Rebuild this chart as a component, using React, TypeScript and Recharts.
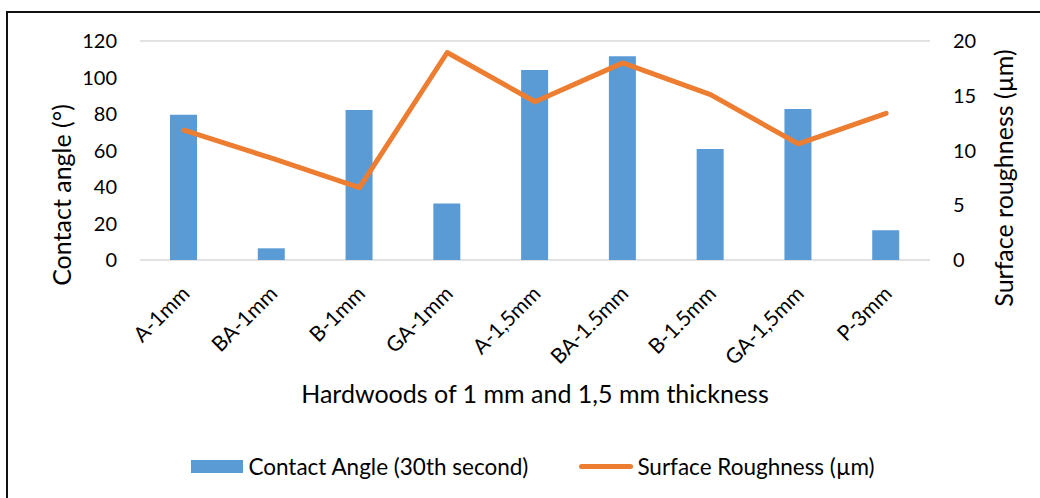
import React from 'react';
import {
  ComposedChart,
  Bar,
  Line,
  XAxis,
  YAxis,
  CartesianGrid,
  Legend,
} from 'recharts';

const samples = ['A-1mm', 'BA-1mm', 'B-1mm', 'GA-1mm', 'A-1,5mm', 'BA-1.5mm', 'B-1.5mm', 'GA-1,5mm', 'P-3mm'];
const contactAngle = [79.6, 6.4, 82.2, 30.9, 104.1, 111.6, 60.8, 82.7, 16.3];
const roughness = [11.85, 9.3, 6.6, 18.95, 14.45, 18.0, 15.1, 10.6, 13.4];
const angleTicks = [0, 20, 40, 60, 80, 100, 120];
const roughTicks = [0, 5, 10, 15, 20];

const data = samples.map((name, i) => ({
  name,
  angle: contactAngle[i],
  rough: roughness[i],
}));

const FONT = 'Lato, "Open Sans", sans-serif';
const BLUE = '#5B9BD5';
const ORANGE = '#ED7D31';

const XTick = (props: any) => {
  const { x, y, payload } = props;
  return (
    <g transform={`translate(${x + 7},${y + 33})`}>
      <text transform="rotate(-45)" textAnchor="end" fontSize={21} fill="#000" fontFamily={FONT}>
        {payload.value}
      </text>
    </g>
  );
};

const LegendBox = () => (
  <div
    style={{
      display: 'flex',
      justifyContent: 'center',
      alignItems: 'center',
      height: 30,
      fontFamily: FONT,
      fontSize: 22.5,
      color: '#000',
      paddingLeft: 26,
    }}
  >
    <span style={{ display: 'inline-block', width: 52, height: 13, background: BLUE, marginRight: 5 }} />
    <span>Contact Angle (30th second)</span>
    <span
      style={{
        display: 'inline-block',
        width: 54,
        height: 5,
        borderRadius: 3,
        background: ORANGE,
        marginLeft: 51,
        marginRight: 4,
      }}
    />
    <span>Surface Roughness (µm)</span>
  </div>
);

const App: React.FC = () => {
  return (
    <div
      style={{
        position: 'fixed',
        left: 0,
        top: 0,
        width: 1040,
        height: 498,
        overflow: 'hidden',
        background: '#fff',
      }}
    >
      <ComposedChart
        width={1040}
        height={498}
        data={data}
        margin={{ top: 41, right: 0, bottom: 17, left: 0 }}
      >
        <CartesianGrid vertical={false} stroke="#D9D9D9" strokeWidth={1.5} />
        <XAxis
          dataKey="name"
          height={191}
          axisLine={false}
          tickLine={false}
          tickSize={0}
          interval={0}
          tick={<XTick />}
          label={(p: any) => {
            const vb = p.viewBox;
            return (
              <text
                x={vb.x + vb.width / 2}
                y={vb.y + 143}
                textAnchor="middle"
                fontSize={25}
                fill="#000"
                fontFamily={FONT}
              >
                Hardwoods of 1 mm and 1,5 mm thickness
              </text>
            );
          }}
        />
        <YAxis
          yAxisId="left"
          width={140}
          domain={[0, 120]}
          ticks={angleTicks}
          axisLine={false}
          tickLine={false}
          tickSize={0}
          tickMargin={23}
          tick={{ fontSize: 20, fill: '#000', fontFamily: FONT }}
          label={(p: any) => {
            const vb = p.viewBox;
            const cx = vb.x + 61;
            const cy = 195;
            return (
              <text
                x={cx}
                y={cy}
                transform={`rotate(-90, ${cx}, ${cy})`}
                textAnchor="middle"
                dominantBaseline="central"
                fontSize={25}
                fill="#000"
                fontFamily={FONT}
              >
                Contact angle (°)
              </text>
            );
          }}
        />
        <YAxis
          yAxisId="right"
          orientation="right"
          width={110}
          domain={[0, 20]}
          ticks={roughTicks}
          axisLine={false}
          tickLine={false}
          tickSize={0}
          tickMargin={23}
          tick={{ fontSize: 20, fill: '#000', fontFamily: FONT }}
          label={(p: any) => {
            const vb = p.viewBox;
            const cx = vb.x + 73;
            const cy = 178;
            return (
              <text
                x={cx}
                y={cy}
                transform={`rotate(-90, ${cx}, ${cy})`}
                textAnchor="middle"
                dominantBaseline="central"
                fontSize={25}
                fill="#000"
                fontFamily={FONT}
              >
                Surface roughness (µm)
              </text>
            );
          }}
        />
        <Legend verticalAlign="bottom" height={30} content={<LegendBox />} />
        <Bar
          yAxisId="left"
          dataKey="angle"
          name="Contact Angle (30th second)"
          fill={BLUE}
          barSize={27}
          isAnimationActive={false}
        />
        <Line
          yAxisId="right"
          dataKey="rough"
          name="Surface Roughness (µm)"
          stroke={ORANGE}
          strokeWidth={5}
          strokeLinecap="round"
          strokeLinejoin="round"
          dot={false}
          activeDot={false}
          isAnimationActive={false}
        />
      </ComposedChart>
      <div
        style={{
          position: 'absolute',
          left: 6,
          top: 11,
          width: 1200,
          height: 700,
          borderLeft: '2px solid #111',
          borderTop: '2px solid #111',
          pointerEvents: 'none',
          zIndex: 5,
        }}
      />
    </div>
  );
};

export default App;
